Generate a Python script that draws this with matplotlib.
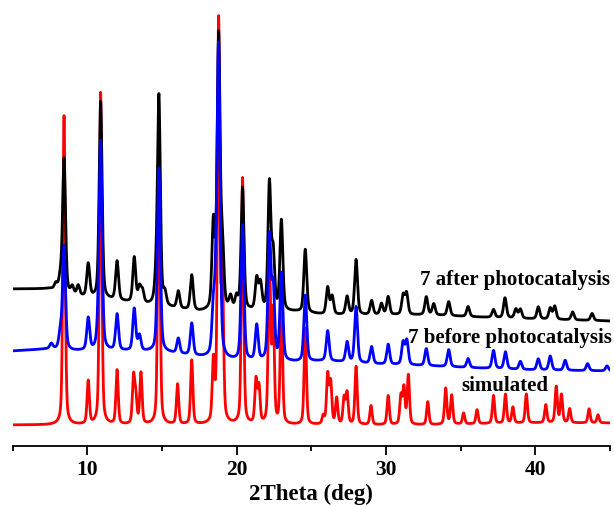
import numpy as np
import matplotlib
matplotlib.use('Agg')
import matplotlib.pyplot as plt
from matplotlib.ticker import MultipleLocator

#Peak lists: 2theta (deg) and peak height (a.u.)
sim_pos = [8.45, 10.07, 10.9, 12.0, 13.1, 13.25, 13.6, 14.8, 16.05, 17.0, 18.45, 18.8, 19.05,
           20.4, 21.3, 21.5, 22.2, 22.45, 23.0, 24.6, 25.8, 26.1, 26.3, 26.7, 27.2, 27.4, 28.0, 29.0,
           30.15, 31.0, 31.2, 31.5, 32.8, 34.0, 34.4, 35.2, 36.1, 37.2, 38.0, 38.5, 39.4, 40.7, 41.4,
           41.75, 42.3, 43.6, 44.2]
sim_int = [309, 43, 332, 54, 46, 26, 51, 296, 40, 64, 59, 400, 149,
           246, 43, 36, 166, 110, 126, 96, 8, 49, 41, 26, 26, 31, 58, 19,
           29, 28, 36, 49, 23, 36, 29, 11, 14, 28, 29, 16, 29, 18, 36,
           28, 14, 14, 8]

before_pos = [7.6, 8.2, 8.45, 10.07, 10.75, 10.9, 12.0, 13.15, 13.5, 14.8, 16.1, 17.0, 18.45, 18.65,
              18.8, 20.4, 21.35, 22.2, 22.45, 23.0, 24.6, 26.1, 27.4, 28.0, 29.04, 30.15, 31.15, 31.4,
              32.7, 34.2, 35.5, 37.2, 38.0, 39.0, 40.2, 41.0, 42.0, 43.5, 44.8]
before_int = [5, 15, 103, 32, 15, 205, 36, 42, 15, 183, 15, 32, 45, 55,
              296, 135, 35, 122, 70, 87, 66, 30, 20, 56, 17, 20, 22, 24,
              17, 17, 9, 18, 17, 8, 11, 14, 10, 7, 5]

after_pos = [7.9, 8.2, 8.45, 9.0, 9.4, 10.07, 10.9, 12.0, 13.15, 13.5, 13.7, 14.6, 14.8, 15.2,
             16.1, 17.0, 18.45, 18.8, 19.05, 19.6, 20.0, 20.4, 21.35, 21.6, 22.2, 22.45, 23.0, 24.6,
             26.1, 26.4, 27.4, 28.0, 29.04, 29.7, 30.15, 31.15, 31.38, 32.7, 33.2, 34.2, 35.5, 37.2,
             37.97, 38.7, 39.0, 40.2, 41.0, 41.3, 42.5, 43.8]
after_int = [6, 12, 134, 8, 10, 33, 197, 39, 45, 15, 12, 18, 209, 12,
             17, 35, 85, 271, 60, 12, 12, 122, 31, 26, 126, 55, 90, 63,
             27, 18, 18, 55, 14, 11, 18, 19, 21, 18, 11, 14, 10, 8,
             20, 9, 9, 12, 11, 13, 8, 7]

#Background levels read at a few 2theta values
bg_pos = [5, 7.5, 9, 12, 15, 17.5, 20, 24, 26, 29, 33, 36, 40, 45]
sim_bg = [21, 21, 21, 21, 21, 21, 21, 21, 21, 21, 21, 22, 23, 23]
before_bg = [95, 97, 95, 95, 94, 89, 85, 84, 85, 82, 80, 78, 76, 75]
after_bg = [157, 157, 150, 145, 139, 134, 135, 134, 131, 131, 131, 129, 127, 125]

two_theta = np.arange(4.5, 45.5, 0.01)

def pattern(pos, inten, bg, fwhm, eta=0.4):
    #pseudo-Voigt profile for each listed reflection on top of the background
    y = np.interp(two_theta, bg_pos, bg)
    for p, h in zip(pos, inten):
        d = (two_theta - p) / (fwhm / 2.0)
        lor = 1 / (1 + d ** 2)
        gau = np.exp(-np.log(2) * d ** 2)
        y = y + h * (eta * lor + (1 - eta) * gau)
    return y

sim = pattern(sim_pos, sim_int, sim_bg, 0.18)
before = pattern(before_pos, before_int, before_bg, 0.23)
after = pattern(after_pos, after_int, after_bg, 0.23)

plt.rcParams['font.family'] = ['Liberation Serif', 'DejaVu Serif']
plt.rcParams['font.weight'] = 'bold'

fig = plt.figure(figsize=(6.14, 5.06), dpi=100)
ax = fig.add_axes([12.5 / 614, 59 / 506, 597.5 / 614, 447 / 506])

ax.plot(two_theta, sim, color='#ff0000', linewidth=2.0, zorder=1)
ax.plot(two_theta, after, color='#000000', linewidth=2.0, zorder=2)
ax.plot(two_theta, before, color='#0000ff', linewidth=2.0, zorder=3)

ax.set_xlim(5, 45)
ax.set_ylim(0, 447)

for s in ['top', 'left', 'right']:
    ax.spines[s].set_visible(False)
ax.spines['bottom'].set_linewidth(1.3)
ax.set_yticks([])
ax.xaxis.set_major_locator(MultipleLocator(10))
ax.xaxis.set_minor_locator(MultipleLocator(5))
ax.tick_params(axis='x', which='major', length=6.5, width=1.3, labelsize=15.5, pad=3)
ax.tick_params(axis='x', which='minor', length=3.5, width=1.3)
for lab in ax.get_xticklabels():
    lab.set_fontweight('bold')
ax.set_xlabel('2Theta (deg)', fontsize=16.5, fontweight='bold', labelpad=2.5)

ax.text(45.0, 162, '7 after photocatalysis', ha='right', va='baseline', fontsize=15,
        fontweight='bold', clip_on=False)
ax.text(45.15, 104, '7 before photocatalysis', ha='right', va='baseline', fontsize=15,
        fontweight='bold', clip_on=False)
ax.text(35.03, 56, 'simulated', ha='left', va='baseline', fontsize=15, fontweight='bold')

fig.savefig('out.png', dpi=100)
